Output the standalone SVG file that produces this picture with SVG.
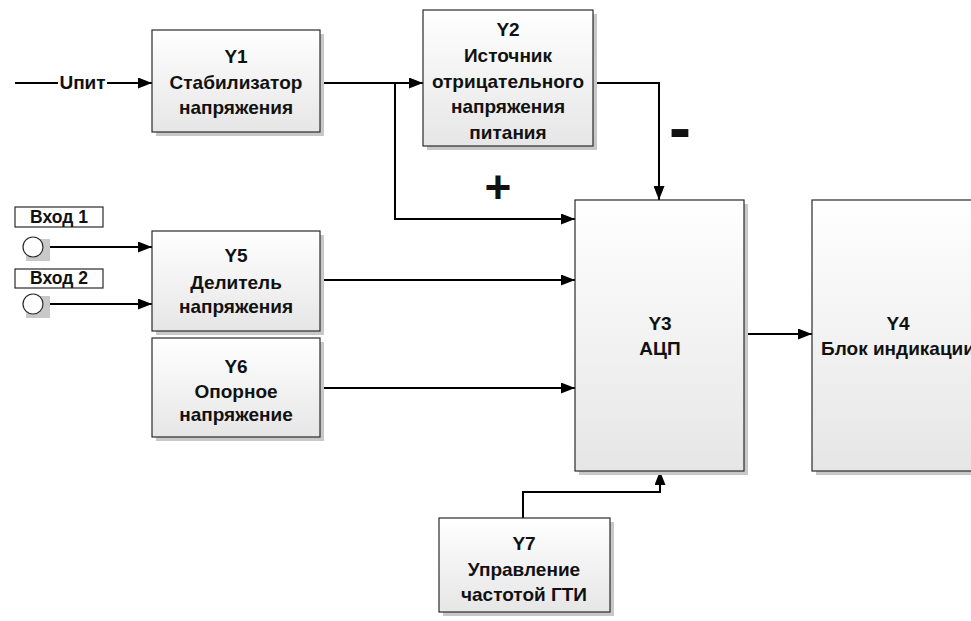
<svg xmlns="http://www.w3.org/2000/svg" width="971" height="621" viewBox="0 0 971 621">
<defs>
<linearGradient id="g" x1="0" y1="0" x2="0" y2="1">
<stop offset="0" stop-color="#ffffff"/>
<stop offset="1" stop-color="#e6e6e6"/>
</linearGradient>
<marker id="arr" viewBox="0 0 14 11" refX="14" refY="5.5" markerWidth="14" markerHeight="11" markerUnits="userSpaceOnUse" orient="auto">
<path d="M0,0 L14,5.5 L0,11 z" fill="#000"/>
</marker>
<style>
.sh{fill:#c8c8c8;stroke:none}
.bx{fill:url(#g);stroke:#2a2a2a;stroke-width:1.2}
.t{font-family:"Liberation Sans",Arial,sans-serif;font-weight:bold;font-size:19px;fill:#111;text-anchor:middle}
.s{font-family:"Liberation Sans",Arial,sans-serif;font-weight:bold;font-size:17.5px;fill:#111;text-anchor:middle}
.c{fill:none;stroke:#000;stroke-width:2}
.a{marker-end:url(#arr)}
.lb{fill:#fff;stroke:#2a2a2a;stroke-width:1.2}
</style>
</defs>
<rect width="971" height="621" fill="#fff"/>

<g id="connectors">
<path class="c" d="M15,83 H58"/>
<path class="c a" d="M107,83 H152"/>
<path class="c a" d="M320,83 H423"/>
<path class="c a" d="M395,83 V219 H575"/>
<path class="c a" d="M593,83 H659 V200"/>
<path class="c a" d="M43,247 H152"/>
<path class="c a" d="M43,304 H152"/>
<path class="c a" d="M320,280 H575"/>
<path class="c a" d="M320,388 H575"/>
<path class="c a" d="M744,334 H812"/>
<path class="c a" d="M523,518 V492 H660 V471"/>
</g>

<g id="upit">
<text class="s" x="82.5" y="89" style="font-size:19px">Uпит</text>
</g>

<g id="Y1">
<rect class="sh" x="156" y="34" width="168" height="102"/>
<rect class="bx" x="152" y="30" width="168" height="102"/>
<text class="t" x="236" y="63">Y1</text>
<text class="t" x="236" y="89">Стабилизатор</text>
<text class="t" x="236" y="114">напряжения</text>
</g>

<g id="Y2">
<rect class="sh" x="427" y="14" width="170" height="136"/>
<rect class="bx" x="423" y="10" width="170" height="136"/>
<text class="t" x="508" y="36">Y2</text>
<text class="t" x="508" y="62">Источник</text>
<text class="t" x="508" y="88">отрицательного</text>
<text class="t" x="508" y="113">напряжения</text>
<text class="t" x="508" y="139">питания</text>
</g>

<g id="signs">
<text class="t" x="498" y="203" style="font-size:46px">+</text>
<text class="t" x="680" y="150" style="font-size:66px">-</text>
</g>

<g id="in1">
<rect class="lb" x="15" y="207" width="88" height="20"/>
<text class="s" x="59" y="223">Вход 1</text>
<rect class="sh" x="26" y="239" width="24" height="22"/>
<circle cx="33" cy="247" r="10" fill="#fff" stroke="#2a2a2a" stroke-width="1.2"/>
</g>

<g id="in2">
<rect class="lb" x="15" y="269" width="88" height="19"/>
<text class="s" x="59" y="284">Вход 2</text>
<rect class="sh" x="26" y="296" width="24" height="22"/>
<circle cx="33" cy="304" r="10" fill="#fff" stroke="#2a2a2a" stroke-width="1.2"/>
</g>

<g id="Y5">
<rect class="sh" x="156" y="235" width="168" height="100"/>
<rect class="bx" x="152" y="231" width="168" height="100"/>
<text class="t" x="236" y="262">Y5</text>
<text class="t" x="236" y="289">Делитель</text>
<text class="t" x="236" y="313">напряжения</text>
</g>

<g id="Y6">
<rect class="sh" x="156" y="342" width="168" height="99"/>
<rect class="bx" x="152" y="338" width="168" height="99"/>
<text class="t" x="236" y="373">Y6</text>
<text class="t" x="236" y="398">Опорное</text>
<text class="t" x="236" y="421">напряжение</text>
</g>

<g id="Y3">
<rect class="sh" x="579" y="204" width="169" height="271"/>
<rect class="bx" x="575" y="200" width="169" height="271"/>
<text class="t" x="660" y="330">Y3</text>
<text class="t" x="660" y="355">АЦП</text>
</g>

<g id="Y4">
<rect class="sh" x="816" y="204" width="172" height="271"/>
<rect class="bx" x="812" y="200" width="172" height="271"/>
<text class="t" x="898" y="330">Y4</text>
<text class="t" x="898" y="355">Блок индикации</text>
</g>

<g id="Y7">
<rect class="sh" x="443" y="522" width="171" height="94"/>
<rect class="bx" x="439" y="518" width="171" height="94"/>
<text class="t" x="524" y="550">Y7</text>
<text class="t" x="524" y="576">Управление</text>
<text class="t" x="524" y="601">частотой ГТИ</text>
</g>
</svg>
